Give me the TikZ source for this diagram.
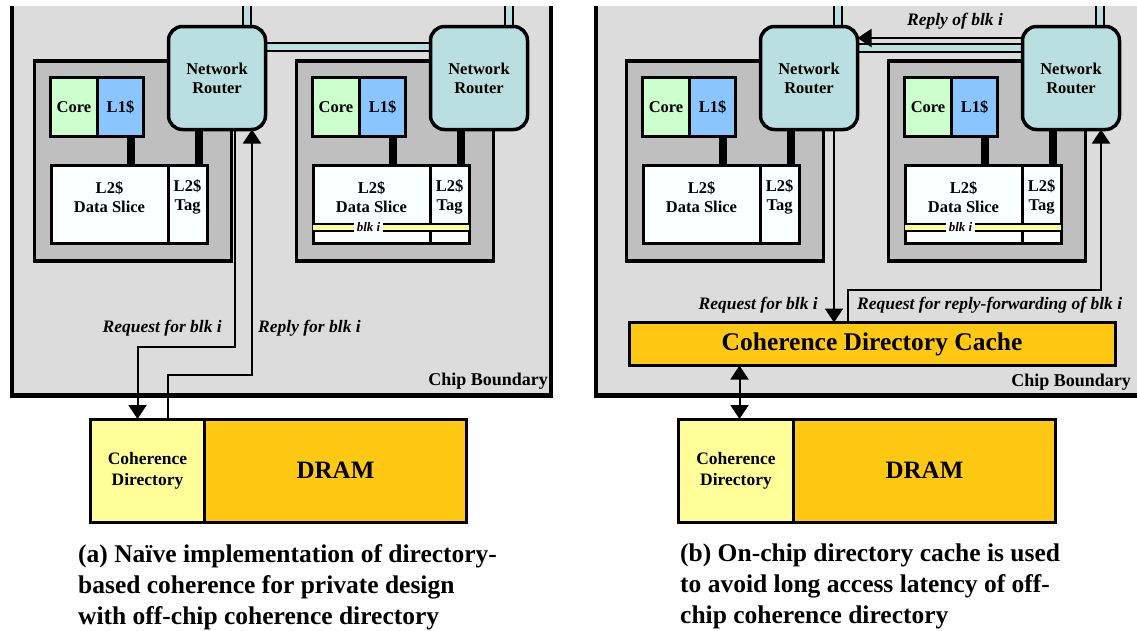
\documentclass[tikz,border=0pt]{standalone}
\usepackage{fontspec}
\setmainfont{Liberation Serif}
\usepackage{tikz}
\usetikzlibrary{arrows.meta}

\definecolor{chipgray}{HTML}{DCDCDC}
\definecolor{tilegray}{HTML}{C0BFBF}
\definecolor{routerteal}{HTML}{B9DFE0}
\definecolor{coregreen}{HTML}{CCFFCC}
\definecolor{l1blue}{HTML}{89C5FE}
\definecolor{l2white}{HTML}{FAFFFF}
\definecolor{diryellow}{HTML}{FFFF99}
\definecolor{dramgold}{HTML}{FFC813}

\begin{document}
\begin{tikzpicture}[x=1pt, y=-1pt,
    chip/.style={draw, line width=4.5pt, fill=chipgray, inner sep=0pt, outer sep=0pt},
    tile/.style={draw, line width=3.5pt, fill=tilegray, inner sep=0pt, outer sep=0pt},
    router/.style={draw, line width=3.5pt, fill=routerteal, rounded corners=14pt, inner sep=0pt, outer sep=0pt,
        minimum width=97pt, minimum height=103pt, align=center, font=\fontsize{16.5}{19}\selectfont\bfseries},
    cell/.style={draw, line width=3pt, inner sep=0pt, outer sep=0pt, align=center, font=\fontsize{16.5}{19}\selectfont\bfseries},
    slab/.style={yshift=7pt, align=center, font=\fontsize{16.5}{19}\selectfont\bfseries},
    mem/.style={draw, line width=3pt, inner sep=0pt, outer sep=0pt, minimum height=103pt, align=center},
    bus/.style={line width=8pt},
    link/.style={line width=1.8pt, double=routerteal, double distance=6.5pt},
    blkrow/.style={line width=1.6pt, double=diryellow, double distance=5pt},
    msg/.style={line width=2pt, -{Triangle[width=18pt,length=14pt]}},
    dbl/.style={line width=2pt, {Triangle[width=18pt,length=14pt]}-{Triangle[width=18pt,length=14pt]}},
    lbl/.style={font=\fontsize{17.5}{20}\selectfont\bfseries\itshape, inner sep=0pt},
    blk/.style={font=\fontsize{13}{15}\selectfont\bfseries\itshape, inner sep=3pt, fill=l2white},
    cb/.style={font=\fontsize{18}{20}\selectfont\bfseries, inner sep=0pt},
    capt/.style={font=\fontsize{25.5}{31}\selectfont\bfseries, inner sep=0pt, align=left},
]
    \useasboundingbox (0,0) rectangle (1137,630);
    \clip (0,6) rectangle (1137,630);

    % (a) off-chip directory
    \node[chip, minimum width=539pt, minimum height=425pt] (chipA) at (281.5,183) {};
    \node[cb, anchor=base east] (cbA) at (548,385) {Chip Boundary};

    \node[tile, minimum width=197pt, minimum height=200pt] (tileA1) at (133,161) {};
    \node[tile, minimum width=197pt, minimum height=200pt] (tileA2) at (395,161) {};

    \coordinate (topA1) at (247,-10);
    \coordinate (topA2) at (509,-10);
    \draw[link] (topA1) -- (topA1 |- 0,78);
    \draw[link] (topA2) -- (topA2 |- 0,78);
    \draw[link] (217,47) -- (479,47);

    \node[router] (routerA1) at (217,78) {Network\\Router};
    \node[router] (routerA2) at (479,78) {Network\\Router};

    \node[cell, fill=coregreen, minimum width=46.5pt, minimum height=59pt] (coreA1) at (74,107) {Core};
    \node[cell, fill=l1blue, minimum width=46.5pt, minimum height=59pt, anchor=west] (l1A1) at (coreA1.east) {L1\$};
    \node[cell, fill=l2white, minimum width=117pt, minimum height=78.5pt, anchor=north west,
        label={[slab]center:L2\$\\Data Slice}] (dataA1) at (51,165) {};
    \node[cell, fill=l2white, minimum width=39pt, minimum height=78.5pt, anchor=north west,
        label={[slab]center:L2\$\\Tag}] (tagA1) at (dataA1.north east) {};
    \draw[bus] ([xshift=10.5pt]l1A1.south) -- ([xshift=10.5pt]l1A1.south |- dataA1.north);
    \draw[bus] ([xshift=-18.5pt]routerA1.south) -- ([xshift=-18.5pt]routerA1.south |- tagA1.north);

    \node[cell, fill=coregreen, minimum width=46.5pt, minimum height=59pt] (coreA2) at (336,107) {Core};
    \node[cell, fill=l1blue, minimum width=46.5pt, minimum height=59pt, anchor=west] (l1A2) at (coreA2.east) {L1\$};
    \node[cell, fill=l2white, minimum width=117pt, minimum height=78.5pt, anchor=north west,
        label={[slab]center:L2\$\\Data Slice}] (dataA2) at (313,165) {};
    \node[cell, fill=l2white, minimum width=39pt, minimum height=78.5pt, anchor=north west,
        label={[slab]center:L2\$\\Tag}] (tagA2) at (dataA2.north east) {};
    \draw[bus] ([xshift=10.5pt]l1A2.south) -- ([xshift=10.5pt]l1A2.south |- dataA2.north);
    \draw[bus] ([xshift=-18.5pt]routerA2.south) -- ([xshift=-18.5pt]routerA2.south |- tagA2.north);
    \draw[blkrow] ([yshift=16pt]dataA2.south west) -- ([yshift=16pt]dataA2.south east);
    \draw[blkrow] ([yshift=16pt]tagA2.south west) -- ([yshift=16pt]tagA2.south east);
    \node[blk] (blkA) at ([xshift=-3pt,yshift=16pt]dataA2.south) {blk i};

    \node[mem, fill=diryellow, minimum width=114pt, font=\fontsize{17.5}{21}\selectfont\bfseries] (cdirA) at (147.5,470.5) {Coherence\\Directory};
    \node[mem, fill=dramgold, minimum width=262pt, anchor=west, font=\fontsize{25}{30}\selectfont\bfseries] (dramA) at (cdirA.east) {DRAM};

    \draw[msg] ([xshift=18pt]routerA1.south) -- ++(0,217) -| ([xshift=-10pt]cdirA.north);
    \draw[msg] ([xshift=20pt]cdirA.north) -- ++(0,-44) -| ([xshift=35pt]routerA1.south);
    \node[lbl, anchor=east] (reqA) at (222,328) {Request for blk i};
    \node[lbl, anchor=west] (repA) at (258,328) {Reply for blk i};

    \node[capt, anchor=north west] (capA) at (78,544) {(a) Naïve implementation of directory-\\based coherence for private design\\with off-chip coherence directory};

    % (b) on-chip directory cache
    \node[chip, minimum width=574pt, minimum height=425pt] (chipB) at (883,183) {};
    \node[cb, anchor=base east] (cbB) at (1131,386) {Chip Boundary};

    \node[tile, minimum width=197pt, minimum height=200pt] (tileB1) at (725,161) {};
    \node[tile, minimum width=197pt, minimum height=200pt] (tileB2) at (987,161) {};

    \coordinate (topB1) at (838,-10);
    \coordinate (topB2) at (1100,-10);
    \draw[link] (topB1) -- (topB1 |- 0,78);
    \draw[link] (topB2) -- (topB2 |- 0,78);
    \draw[link] (809,48) -- (1071,48);

    \node[router] (routerB1) at (809,78) {Network\\Router};
    \node[router] (routerB2) at (1071,78) {Network\\Router};

    \node[cell, fill=coregreen, minimum width=46.5pt, minimum height=59pt] (coreB1) at (666,107) {Core};
    \node[cell, fill=l1blue, minimum width=46.5pt, minimum height=59pt, anchor=west] (l1B1) at (coreB1.east) {L1\$};
    \node[cell, fill=l2white, minimum width=117pt, minimum height=78.5pt, anchor=north west,
        label={[slab]center:L2\$\\Data Slice}] (dataB1) at (643,165) {};
    \node[cell, fill=l2white, minimum width=39pt, minimum height=78.5pt, anchor=north west,
        label={[slab]center:L2\$\\Tag}] (tagB1) at (dataB1.north east) {};
    \draw[bus] ([xshift=10.5pt]l1B1.south) -- ([xshift=10.5pt]l1B1.south |- dataB1.north);
    \draw[bus] ([xshift=-18.5pt]routerB1.south) -- ([xshift=-18.5pt]routerB1.south |- tagB1.north);

    \node[cell, fill=coregreen, minimum width=46.5pt, minimum height=59pt] (coreB2) at (928,107) {Core};
    \node[cell, fill=l1blue, minimum width=46.5pt, minimum height=59pt, anchor=west] (l1B2) at (coreB2.east) {L1\$};
    \node[cell, fill=l2white, minimum width=117pt, minimum height=78.5pt, anchor=north west,
        label={[slab]center:L2\$\\Data Slice}] (dataB2) at (905,165) {};
    \node[cell, fill=l2white, minimum width=39pt, minimum height=78.5pt, anchor=north west,
        label={[slab]center:L2\$\\Tag}] (tagB2) at (dataB2.north east) {};
    \draw[bus] ([xshift=10.5pt]l1B2.south) -- ([xshift=10.5pt]l1B2.south |- dataB2.north);
    \draw[bus] ([xshift=-18.5pt]routerB2.south) -- ([xshift=-18.5pt]routerB2.south |- tagB2.north);
    \draw[blkrow] ([yshift=16pt]dataB2.south west) -- ([yshift=16pt]dataB2.south east);
    \draw[blkrow] ([yshift=16pt]tagB2.south west) -- ([yshift=16pt]tagB2.south east);
    \node[blk] (blkB) at ([xshift=-3pt,yshift=16pt]dataB2.south) {blk i};

    \node[mem, fill=dramgold, minimum width=486pt, minimum height=43pt, font=\fontsize{25.5}{30}\selectfont\bfseries] (cdcB) at (872,344) {Coherence Directory Cache};

    \node[mem, fill=diryellow, minimum width=115pt, font=\fontsize{17.5}{21}\selectfont\bfseries] (cdirB) at (736,470.5) {Coherence\\Directory};
    \node[mem, fill=dramgold, minimum width=262pt, anchor=west, font=\fontsize{25}{30}\selectfont\bfseries] (dramB) at (cdirB.east) {DRAM};

    \draw[msg] ([yshift=40pt]routerB2.west) -- ([yshift=40pt]routerB1.east);
    \node[lbl] (repB) at (955,21) {Reply of blk i};
    \draw[msg] ([xshift=25pt]routerB1.south) -- ([xshift=25pt]routerB1.south |- cdcB.north);
    \draw[msg] ([xshift=-24pt]cdcB.north) -- ++(0,-33) -| ([xshift=30pt]routerB2.south);
    \node[lbl, anchor=east] (reqB) at (818,305) {Request for blk i};
    \node[lbl, anchor=west] (fwdB) at (857,305) {Request for reply-forwarding of blk i};
    \draw[dbl] ([xshift=3.5pt]cdirB.north) -- ([xshift=3.5pt]cdirB.north |- cdcB.south);

    \node[capt, anchor=north west] (capB) at (680,544) {(b) On-chip directory cache is used\\to avoid long access latency of off-\\chip coherence directory};
\end{tikzpicture}
\end{document}
